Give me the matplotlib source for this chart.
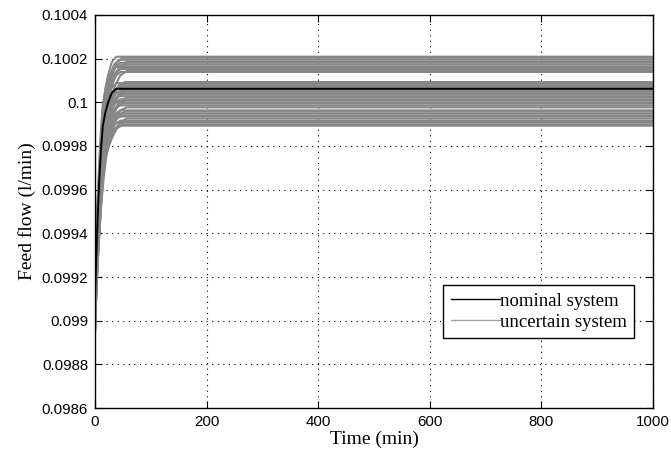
import numpy as np
import matplotlib
matplotlib.use("Agg")
import matplotlib.pyplot as plt

# steady-state feed flow of each uncertain run (l/min)
uncertain_final = [0.100209, 0.100204, 0.100195, 0.100186, 0.100181, 0.100172,
                   0.100162, 0.100158, 0.100153, 0.100144, 0.100139, 0.100093,
                   0.100088, 0.100079, 0.100070, 0.100060, 0.100056, 0.100051,
                   0.100042, 0.100037, 0.100028, 0.100023, 0.100014, 0.100009,
                   0.100000, 0.099995, 0.099986, 0.099977, 0.099963, 0.099958,
                   0.099949, 0.099940, 0.099935, 0.099926, 0.099916, 0.099912,
                   0.099907, 0.099898, 0.099893]
# start values at t=0 (cycled over the runs)
uncertain_start = [0.09895, 0.09905, 0.09915, 0.09925, 0.0991, 0.0990, 0.0992, 0.0993]
# time stretch of the transient per run (cycled)
uncertain_stretch = [1.0, 1.3, 1.15, 1.5, 1.2, 1.4]

nominal_final = 0.100062
nominal_start = 0.09912

# transient shape (fraction of the step done)
t_shape = [0, 2, 4, 7, 10, 14, 18, 23, 30, 38, 50, 1000]
f_shape = [0, 0.17, 0.32, 0.52, 0.68, 0.82, 0.88, 0.93, 0.98, 1.0, 1.0, 1.0]

t = np.linspace(0, 1000, 2001)

fig = plt.figure(figsize=(6.71, 4.5), dpi=100)
ax = fig.add_axes([0.1416, 0.0933, 0.8314, 0.8734])

for i, yf in enumerate(uncertain_final):
    y0 = uncertain_start[i % len(uncertain_start)]
    s = uncertain_stretch[i % len(uncertain_stretch)]
    frac = np.interp(t / s, t_shape, f_shape)
    ax.plot(t, y0 + (yf - y0) * frac, color="#878787", lw=1.5, zorder=2)

frac = np.interp(t, t_shape, f_shape)
ax.plot(t, nominal_start + (nominal_final - nominal_start) * frac,
        color="black", lw=1.4, zorder=3)

ax.set_xlim(0, 1000)
ax.set_ylim(0.0986, 0.1004)
ax.set_xticks([0, 200, 400, 600, 800, 1000])
ax.set_yticks(np.arange(0.0986, 0.10041, 0.0002))
ax.set_yticklabels(["0.0986", "0.0988", "0.099", "0.0992", "0.0994", "0.0996",
                    "0.0998", "0.1", "0.1002", "0.1004"])
ax.grid(True, linestyle=(0, (1, 4)), color="black", lw=0.8)
ax.tick_params(direction="in", top=True, right=True, length=5,
               labelsize=10.8, colors="black", pad=5)
for lab in ax.get_xticklabels() + ax.get_yticklabels():
    lab.set_family("Liberation Sans")
for sp in ax.spines.values():
    sp.set_linewidth(1.0)

ax.set_xlabel("Time (min)", family="Liberation Serif", fontsize=14, labelpad=1)
ax.set_ylabel("Feed flow (l/min)", family="Liberation Serif", fontsize=14, labelpad=4)

h1, = ax.plot([], [], color="black", lw=1.0)
h2, = ax.plot([], [], color="#a0a0a0", lw=1.0)
leg = ax.legend([h1, h2], ["nominal system", "uncertain system"],
                loc="lower right", bbox_to_anchor=(0.966, 0.178),
                prop={"family": "Liberation Serif", "size": 13.5},
                fancybox=False, framealpha=1, edgecolor="black",
                handlelength=2.6, handletextpad=0.0, borderpad=0.4,
                labelspacing=0.2, borderaxespad=0.0)
leg.get_frame().set_linewidth(1.0)

fig.savefig("out.png", dpi=100)
